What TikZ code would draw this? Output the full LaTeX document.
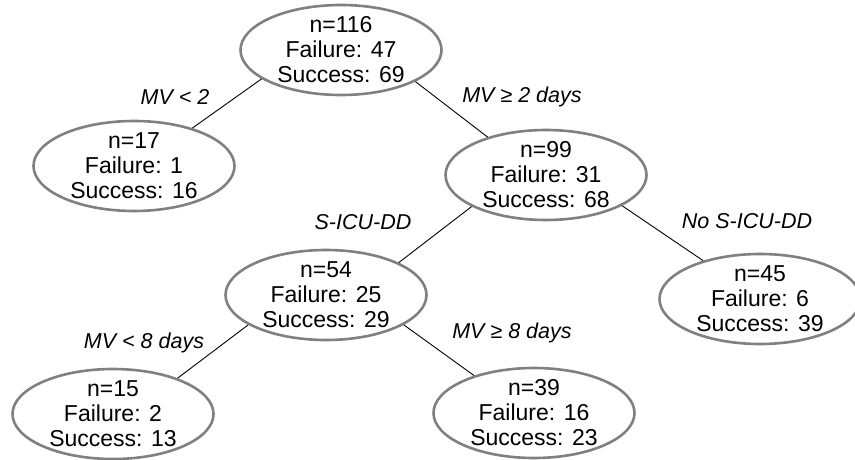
\documentclass[tikz,border=0pt]{standalone}
\usepackage{fontspec}
\setmainfont{Liberation Sans}
\usetikzlibrary{shapes.geometric}

\definecolor{nodegray}{RGB}{128,128,128}

\tikzset{
  leafnode/.style={draw=nodegray, line width=2.6pt, ellipse, minimum width=201pt, minimum height=90pt,
    inner xsep=0pt, inner ysep=-6pt, align=center, font=\fontsize{23}{25}\selectfont},
  splitlabel/.style={inner sep=0pt, font=\fontsize{21.5}{25.5}\selectfont\itshape},
  branch/.style={line width=0.9pt}
}

\begin{document}
\begin{tikzpicture}[x=1pt,y=1pt,yscale=-1,xscale=1]
        \useasboundingbox (0,0) rectangle (855,460); %set diagram left start at 0, and has height of 460

        %Shape: Ellipse [id:root]
        \node [leafnode] (root) at (341,50) {n=116\\Failure: 47\\Success: 69};
        %Shape: Ellipse [id:n17]
        \node [leafnode] (n17) at (134,166) {n=17\\Failure: 1\\Success: 16};
        %Shape: Ellipse [id:n99]
        \node [leafnode] (n99) at (546,175) {n=99\\Failure: 31\\Success: 68};
        %Shape: Ellipse [id:n54]
        \node [leafnode] (n54) at (326,295) {n=54\\Failure: 25\\Success: 29};
        %Shape: Ellipse [id:n45]
        \node [leafnode] (n45) at (760,299) {n=45\\Failure: 6\\Success: 39};
        %Shape: Ellipse [id:n15]
        \node [leafnode] (n15) at (113,414) {n=15\\Failure: 2\\Success: 13};
        %Shape: Ellipse [id:n39]
        \node [leafnode] (n39) at (534,413) {n=39\\Failure: 16\\Success: 23};

        %Straight Lines
        \draw [branch] (root.200) -- (n17.33) ;
        \draw [branch] (root.337) -- (n99.147) ;
        \draw [branch] (n99.203) -- (n54.24) ;
        \draw [branch] (n99.338) -- (n45.146) ;
        \draw [branch] (n54.201) -- (n15.29) ;
        \draw [branch] (n54.339) -- (n39.148) ;

        % Text Node
        \node [splitlabel] (lmv2) at (175,97) {MV < 2};
        \node [splitlabel] (rmv2) at (522,97) {MV ≥ 2 days};
        % Text Node
        \node [splitlabel] (licu) at (363,222) {S-ICU-DD};
        \node [splitlabel] (ricu) at (747,221) {No S-ICU-DD};
        % Text Node
        \node [splitlabel] (lmv8) at (144,343) {MV < 8 days};
        \node [splitlabel] (rmv8) at (512,333) {MV ≥ 8 days};
\end{tikzpicture}
\end{document}
